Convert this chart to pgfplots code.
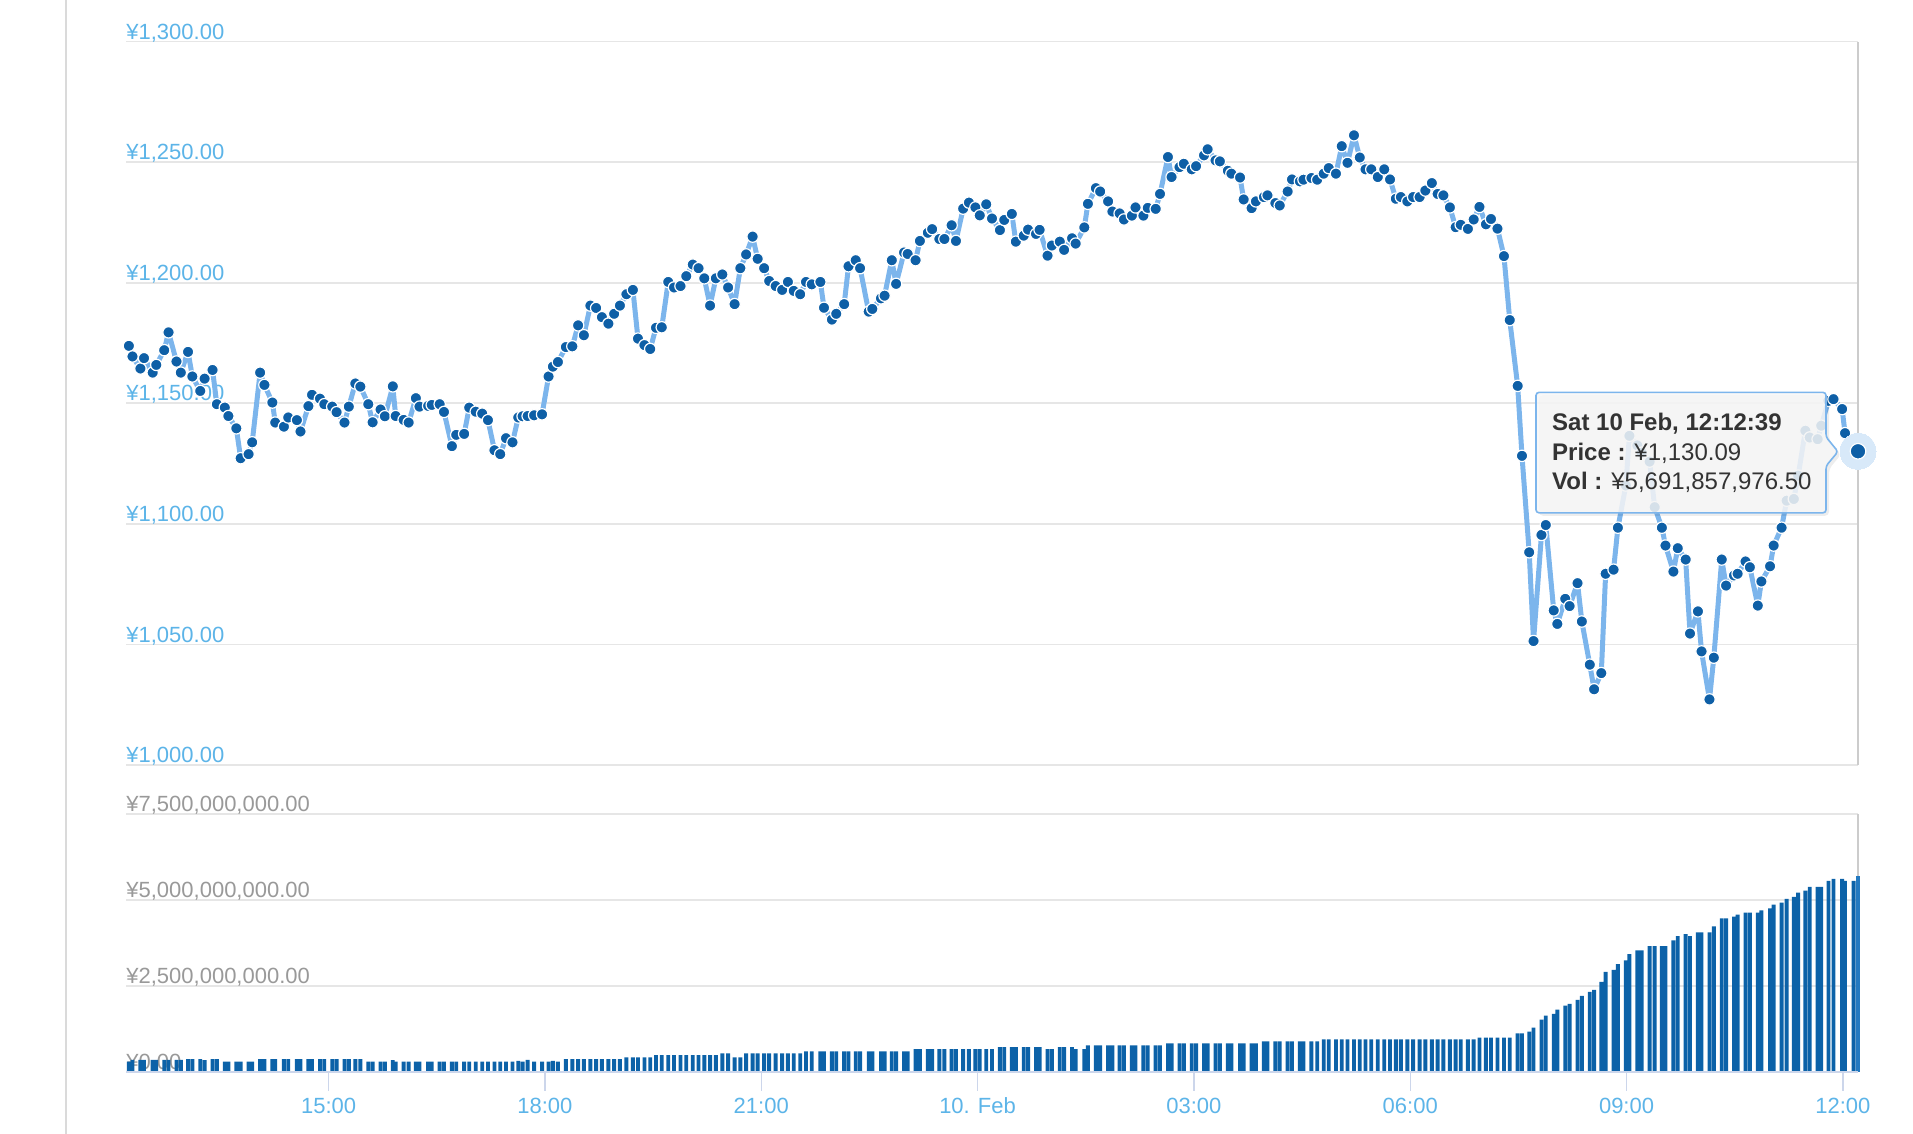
\documentclass[border=0pt]{standalone}
\usepackage{fontspec}
\setmainfont{Liberation Sans}
\usepackage{pgfplots}
\usepackage{pgfplotstable}
\pgfplotsset{compat=1.18}
\definecolor{linec}{HTML}{7CB5EC}
\definecolor{markc}{HTML}{0E5FA6}
\definecolor{barc}{HTML}{0C62A8}
\definecolor{barhov}{HTML}{2379C0}
\definecolor{pricelab}{HTML}{5CB4E8}
\definecolor{vollab}{HTML}{999999}
\definecolor{gridc}{HTML}{E6E6E6}
\definecolor{axc}{HTML}{CCD6EB}
\definecolor{borderc}{HTML}{CCCCCC}
\definecolor{leftc}{HTML}{DADADA}
\definecolor{tipbg}{HTML}{F7F7F7}
\definecolor{tiptext}{HTML}{333333}
\definecolor{haloc}{HTML}{D8E9F9}

\pgfplotstableread{
h p v
-11.77 1173.8 0.29
-11.72 1169.4 0.34
-11.61 1164.4 0.34
-11.56 1168.7 0.34
-11.44 1162.7 0.34
-11.39 1165.9 0.34
-11.28 1172.0 0.34
-11.22 1179.4 0.34
-11.11 1167.3 0.34
-11.05 1162.7 0.34
-10.95 1171.3 0.36
-10.89 1161.1 0.36
-10.78 1155.1 0.36
-10.72 1160.2 0.33
-10.61 1163.8 0.36
-10.55 1149.6 0.36
-10.44 1148.2 0.29
-10.39 1144.7 0.29
-10.28 1139.6 0.29
-10.22 1127.2 0.29
-10.11 1128.9 0.29
-10.06 1133.8 0.29
-9.95 1162.7 0.36
-9.89 1157.6 0.36
-9.78 1150.3 0.36
-9.74 1142.0 0.36
-9.62 1140.3 0.36
-9.56 1144.1 0.36
-9.44 1143.0 0.36
-9.39 1138.3 0.36
-9.28 1148.8 0.36
-9.23 1153.5 0.36
-9.12 1151.9 0.36
-9.06 1149.6 0.36
-8.95 1148.6 0.36
-8.89 1146.3 0.36
-8.78 1142.0 0.36
-8.72 1148.6 0.36
-8.63 1158.2 0.36
-8.56 1156.9 0.36
-8.45 1149.6 0.29
-8.39 1142.1 0.29
-8.28 1147.4 0.29
-8.22 1144.6 0.29
-8.11 1157.0 0.33
-8.07 1144.7 0.29
-7.96 1143.1 0.29
-7.89 1142.0 0.29
-7.79 1152.1 0.29
-7.74 1148.6 0.29
-7.62 1148.9 0.29
-7.57 1149.3 0.29
-7.46 1149.6 0.29
-7.40 1146.4 0.29
-7.29 1132.2 0.29
-7.23 1136.9 0.29
-7.12 1137.3 0.29
-7.05 1148.2 0.29
-6.96 1146.5 0.29
-6.87 1145.7 0.29
-6.79 1143.0 0.29
-6.70 1130.5 0.29
-6.62 1128.9 0.29
-6.54 1135.5 0.29
-6.45 1133.8 0.29
-6.37 1144.1 0.31
-6.31 1144.6 0.29
-6.24 1144.7 0.34
-6.15 1145.0 0.29
-6.04 1145.4 0.29
-5.95 1161.1 0.29
-5.89 1165.2 0.31
-5.82 1167.1 0.29
-5.71 1173.3 0.36
-5.62 1173.6 0.36
-5.54 1182.3 0.36
-5.46 1178.2 0.36
-5.37 1190.5 0.36
-5.29 1189.5 0.36
-5.21 1185.7 0.36
-5.12 1183.0 0.36
-5.04 1187.1 0.36
-4.96 1190.5 0.36
-4.87 1195.2 0.41
-4.78 1197.0 0.41
-4.71 1176.8 0.41
-4.62 1174.1 0.41
-4.54 1172.5 0.41
-4.46 1181.3 0.475
-4.38 1181.5 0.475
-4.29 1200.3 0.475
-4.21 1198.0 0.475
-4.12 1198.6 0.475
-4.04 1202.7 0.475
-3.95 1207.5 0.475
-3.87 1206.0 0.475
-3.79 1201.8 0.475
-3.71 1190.5 0.475
-3.63 1201.8 0.475
-3.54 1203.4 0.53
-3.46 1198.0 0.53
-3.37 1191.1 0.41
-3.29 1206.0 0.41
-3.21 1211.7 0.53
-3.12 1219.1 0.53
-3.05 1209.9 0.53
-2.96 1206.0 0.53
-2.89 1200.7 0.53
-2.80 1198.6 0.53
-2.71 1197.0 0.53
-2.63 1200.3 0.53
-2.55 1196.6 0.53
-2.46 1195.2 0.53
-2.38 1200.3 0.59
-2.30 1199.3 0.59
-2.18 1200.3 0.59
-2.13 1189.6 0.59
-2.02 1184.7 0.59
-1.96 1187.1 0.59
-1.85 1191.1 0.59
-1.79 1206.8 0.59
-1.69 1209.3 0.59
-1.63 1206.0 0.59
-1.51 1188.0 0.59
-1.46 1189.1 0.59
-1.34 1193.5 0.59
-1.29 1194.6 0.59
-1.19 1209.3 0.59
-1.13 1199.5 0.59
-1.02 1212.5 0.59
-0.97 1211.9 0.59
-0.86 1209.3 0.65
-0.80 1217.3 0.65
-0.69 1220.7 0.65
-0.63 1222.2 0.65
-0.53 1218.1 0.65
-0.46 1218.1 0.65
-0.36 1223.8 0.65
-0.30 1217.3 0.65
-0.20 1230.7 0.65
-0.12 1233.2 0.65
-0.03 1231.2 0.65
0.03 1227.9 0.65
0.12 1232.5 0.65
0.20 1226.6 0.65
0.31 1221.8 0.71
0.37 1226.0 0.71
0.475 1228.5 0.71
0.53 1217.0 0.71
0.64 1219.5 0.71
0.70 1222.0 0.71
0.81 1220.2 0.71
0.86 1221.9 0.71
0.97 1211.2 0.65
1.03 1215.4 0.65
1.14 1217.0 0.71
1.20 1213.6 0.71
1.31 1218.4 0.71
1.36 1216.2 0.65
1.48 1222.9 0.65
1.53 1232.7 0.76
1.64 1239.2 0.76
1.70 1237.8 0.76
1.81 1233.7 0.76
1.87 1229.5 0.76
1.97 1228.7 0.76
2.03 1226.2 0.76
2.14 1227.8 0.76
2.19 1231.2 0.76
2.30 1227.8 0.76
2.36 1231.0 0.76
2.47 1230.6 0.76
2.53 1236.8 0.76
2.64 1252.1 0.82
2.69 1243.8 0.82
2.80 1247.9 0.82
2.86 1249.3 0.82
2.97 1247.0 0.82
3.03 1248.3 0.82
3.14 1252.8 0.82
3.19 1255.3 0.82
3.30 1250.7 0.82
3.36 1250.3 0.82
3.47 1246.4 0.82
3.52 1245.2 0.82
3.64 1243.6 0.82
3.69 1234.5 0.82
3.80 1230.9 0.82
3.86 1233.7 0.82
3.97 1235.5 0.88
4.02 1236.2 0.88
4.13 1233.0 0.88
4.19 1232.0 0.88
4.30 1237.8 0.88
4.36 1242.8 0.88
4.47 1242.0 0.88
4.52 1242.7 0.88
4.63 1243.4 0.88
4.71 1242.7 0.88
4.80 1245.2 0.934
4.87 1247.5 0.934
4.97 1245.2 0.934
5.05 1256.6 0.934
5.13 1249.7 0.934
5.22 1261.1 0.934
5.30 1251.9 0.934
5.38 1247.0 0.934
5.46 1247.0 0.934
5.55 1243.8 0.934
5.64 1247.0 0.934
5.72 1242.8 0.934
5.80 1234.8 0.934
5.87 1235.5 0.934
5.96 1233.7 0.934
6.04 1235.5 0.934
6.13 1235.5 0.934
6.21 1238.2 0.934
6.30 1241.3 0.934
6.38 1236.8 0.934
6.46 1236.2 0.934
6.55 1231.2 0.934
6.63 1223.0 0.934
6.70 1224.0 0.934
6.80 1222.3 0.934
6.88 1226.2 0.934
6.96 1231.4 0.99
7.05 1224.2 0.99
7.12 1226.4 0.99
7.21 1222.4 0.99
7.30 1211.0 0.99
7.38 1184.5 0.99
7.49 1157.2 1.11
7.55 1128.2 1.11
7.65 1088.2 1.16
7.71 1051.4 1.28
7.82 1095.4 1.51
7.88 1099.5 1.63
7.99 1064.1 1.68
8.04 1058.5 1.80
8.15 1068.9 1.92
8.21 1065.9 1.97
8.32 1075.4 2.09
8.38 1059.5 2.20
8.49 1041.6 2.32
8.55 1031.4 2.38
8.65 1038.1 2.61
8.71 1079.3 2.90
8.82 1081.0 2.96
8.88 1098.4 3.13
8.99 1115.9 3.24
9.04 1136.5 3.42
9.15 1132.5 3.53
9.21 1129.5 3.53
9.32 1125.8 3.65
9.39 1106.9 3.65
9.49 1098.4 3.65
9.54 1091.0 3.65
9.65 1080.2 3.82
9.71 1089.9 3.94
9.82 1085.2 4.00
9.88 1054.5 3.94
9.99 1063.7 4.05
10.04 1047.1 4.05
10.15 1027.2 4.05
10.21 1044.5 4.23
10.32 1085.2 4.46
10.38 1074.4 4.46
10.49 1078.6 4.51
10.54 1079.3 4.57
10.65 1084.4 4.63
10.71 1082.0 4.63
10.82 1066.1 4.63
10.87 1076.1 4.69
10.99 1082.4 4.75
11.04 1091.0 4.86
11.15 1098.4 4.92
11.22 1109.6 5.03
11.32 1110.3 5.09
11.38 1120.0 5.21
11.48 1138.6 5.27
11.54 1135.8 5.38
11.65 1135.1 5.38
11.70 1140.7 5.38
11.80 1151.0 5.55
11.87 1151.7 5.61
11.99 1147.6 5.61
12.03 1137.6 5.55
12.15 1133.0 5.55
12.21 1130.09 5.69
}\data

\begin{document}
\begin{tikzpicture}
\useasboundingbox (0pt,0pt) rectangle (956.5pt,-567pt);
\draw[leftc, line width=1.2pt] (33pt,0pt) -- (33pt,-567pt);

% price pane
\begin{axis}[
  at={(63pt,-382.5pt)}, anchor=south west, scale only axis,
  width=866pt, height=361.75pt,
  xmin=-11.81, xmax=12.21, ymin=1000, ymax=1300,
  xtick=\empty,
  ytick={1000,1050,1100,1150,1200,1250,1300},
  yticklabels={{¥1,000.00},{¥1,050.00},{¥1,100.00},{¥1,150.00},{¥1,200.00},{¥1,250.00},{¥1,300.00}},
  ymajorgrids, grid style={gridc, line width=0.85pt},
  axis line style={draw=none},
  major tick style={draw=none},
  yticklabel style={anchor=base west, inner sep=0pt, xshift=0pt, yshift=1.2pt, font=\fontsize{11}{13}\selectfont, text=pricelab},
  clip=false,
]
\draw[borderc, line width=1pt] (rel axis cs:1,0) -- (rel axis cs:1,1);
\addplot[linec, line width=2.5pt, line join=round, mark=*, mark size=2.85pt,
  mark options={fill=markc, draw=white, line width=0.6pt, solid}] table[x=h, y=p] {\data};
\addplot[only marks, mark=*, mark size=9pt, mark options={fill=haloc, draw=haloc, line width=0pt}] coordinates {(12.21,1130.09)};
\addplot[only marks, mark=*, mark size=3.9pt, mark options={fill=markc, draw=white, line width=0.6pt}] coordinates {(12.21,1130.09)};
\end{axis}

% volume pane
\begin{axis}[
  at={(63pt,-535.75pt)}, anchor=south west, scale only axis,
  width=866pt, height=128.75pt,
  xmin=-11.81, xmax=12.21, ymin=0, ymax=7.5,
  ytick={0,2.5,5,7.5},
  yticklabels={{¥0.00},{¥2,500,000,000.00},{¥5,000,000,000.00},{¥7,500,000,000.00}},
  xtick={-9,-6,-3,0,3,6,9,12},
  xticklabels={15:00,18:00,21:00,10. Feb,03:00,06:00,09:00,12:00},
  ymajorgrids, grid style={gridc, line width=0.85pt},
  axis line style={draw=none},
  ytick style={draw=none},
  xtick style={draw=axc, line width=0.7pt},
  tick align=outside, major tick length=9.5pt, xtick pos=left,
  xticklabel style={font=\fontsize{11}{13}\selectfont, text=pricelab, text height=8pt, text depth=0pt},
  yticklabel style={anchor=base west, inner sep=0pt, xshift=9.5pt, yshift=1.2pt, font=\fontsize{11}{13}\selectfont, text=vollab},
  clip=false,
]
\draw[borderc, line width=1pt] (rel axis cs:1,0) -- (rel axis cs:1,1);
\addplot[ybar, bar width=1.95pt, bar shift=0pt, fill=barc, draw=none] table[x=h, y=v] {\data};
\addplot[ybar, bar width=1.95pt, bar shift=0pt, fill=barhov, draw=none] coordinates {(12.21,5.69)};
\draw[axc, line width=1pt] (rel axis cs:0,0) -- (rel axis cs:1,0);
\end{axis}

% tooltip
\path[fill=black, fill opacity=0.07, rounded corners=2pt]
  (769.5pt,-197.7pt) -- (914.5pt,-197.7pt) -- (914.5pt,-220pt) -- (920.5pt,-227.3pt) -- (914.5pt,-234.5pt) -- (914.5pt,-257.9pt) -- (769.5pt,-257.9pt) -- cycle;
\draw[linec, line width=0.8pt, fill=tipbg, fill opacity=0.86, rounded corners=1.5pt]
  (768pt,-196.2pt) -- (913pt,-196.2pt) -- (913pt,-218.5pt) -- (919pt,-225.8pt) -- (913pt,-233pt) -- (913pt,-256.4pt) -- (768pt,-256.4pt) -- cycle;
\node[anchor=base west, inner sep=0pt, text=tiptext, font=\fontsize{12}{14}\selectfont] at (775.9pt,-215.3pt) {\textbf{Sat 10 Feb, 12:12:39}};
\node[anchor=base west, inner sep=0pt, text=tiptext, font=\fontsize{12}{14}\selectfont] at (775.9pt,-230pt) {\textbf{Price :} ¥1,130.09};
\node[anchor=base west, inner sep=0pt, text=tiptext, font=\fontsize{12}{14}\selectfont] at (775.9pt,-244.7pt) {\textbf{Vol :} ¥5,691,857,976.50};
\end{tikzpicture}
\end{document}
